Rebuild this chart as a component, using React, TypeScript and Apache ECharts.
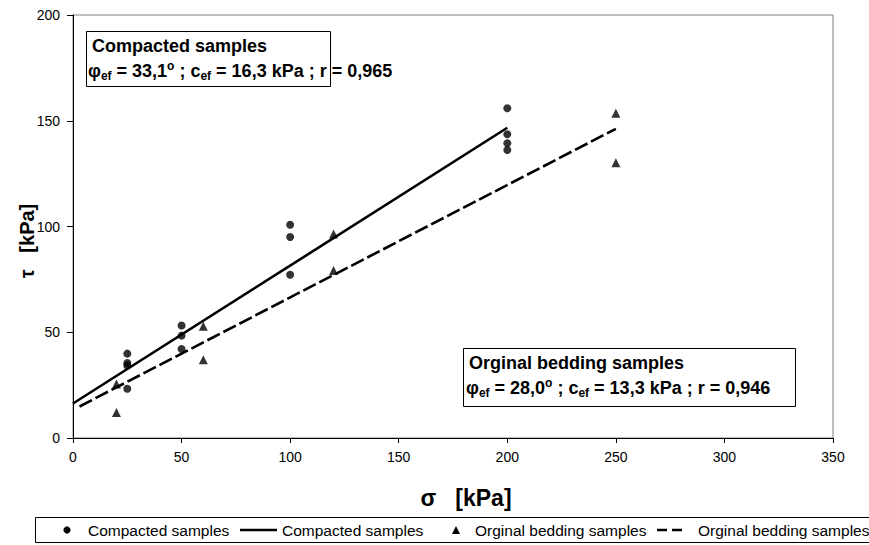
import React, { useEffect, useRef } from "react";
import * as echarts from "echarts";

// Compacted samples (circles)
const compactedSigma = [25, 25, 25, 25, 50, 50, 50, 100, 100, 100, 200, 200, 200, 200];
const compactedTau = [39.9, 35.5, 34.3, 23.3, 53.2, 48.4, 42.1, 100.8, 95.0, 77.2, 155.9, 143.6, 139.4, 136.2];
// Original bedding samples (triangles)
const beddingSigma = [20, 20, 60, 60, 120, 120, 250, 250];
const beddingTau = [25.5, 12.1, 52.8, 37.0, 96.5, 79.2, 153.6, 130.2];
// Fitted envelopes (end points)
const compactedFitSigma = [0, 200];
const compactedFitTau = [16.3, 146.7];
const beddingFitSigma = [3, 250];
const beddingFitTau = [14.9, 146.2];

const xTicks = { min: 0, max: 350, interval: 50 };
const yTicks = { min: 0, max: 200, interval: 50 };

const legendLabels = [
  "Compacted samples",
  "Compacted samples",
  "Orginal bedding samples",
  "Orginal bedding samples",
];

const FONT = 'Arial, "Liberation Sans", sans-serif';

const zip = (a: number[], b: number[]) => a.map((v, i) => [v, b[i]]);

export default function App() {
  const ref = useRef<HTMLDivElement>(null);
  useEffect(() => {
    const chart = echarts.init(ref.current!, null, { renderer: "svg" });
    const rich = {
      m: { fontFamily: FONT, fontWeight: "bold", fontSize: 18, lineHeight: 22, color: "#000" },
      g: { fontFamily: FONT, fontWeight: "bold", fontSize: 18, lineHeight: 22, color: "#000" },
      s: { fontFamily: FONT, fontWeight: "bold", fontSize: 12, lineHeight: 14, verticalAlign: "bottom", color: "#000" },
      p: { fontFamily: FONT, fontWeight: "bold", fontSize: 12, lineHeight: 14, verticalAlign: "top", color: "#000" },
    };
    const legendY = 530;
    const option: any = {
      animation: false,
      backgroundColor: "#fff",
      grid: {
        left: 73,
        right: 36,
        top: 15,
        bottom: 107,
        show: true,
        borderColor: "#808080",
        borderWidth: 1,
        backgroundColor: "transparent",
      },
      xAxis: {
        type: "value",
        min: xTicks.min,
        max: xTicks.max,
        interval: xTicks.interval,
        axisLine: { show: true, onZero: false, lineStyle: { color: "#000", width: 1 } },
        axisTick: { show: true, length: 5, lineStyle: { color: "#000" } },
        axisLabel: { color: "#000", fontSize: 14, fontFamily: FONT, margin: 12 },
        splitLine: { show: false },
      },
      yAxis: {
        type: "value",
        min: yTicks.min,
        max: yTicks.max,
        interval: yTicks.interval,
        axisLine: { show: true, onZero: false, lineStyle: { color: "#000", width: 1 } },
        axisTick: { show: true, length: 6, lineStyle: { color: "#000" } },
        axisLabel: { color: "#000", fontSize: 14, fontFamily: FONT, margin: 13 },
        splitLine: { show: false },
      },
      series: [
        {
          name: legendLabels[0],
          type: "scatter",
          symbol: "circle",
          symbolSize: 8,
          itemStyle: { color: "#000" },
          data: zip(compactedSigma, compactedTau),
        },
        {
          name: legendLabels[1],
          type: "line",
          symbol: "none",
          lineStyle: { color: "#000", width: 2.6, type: "solid" },
          data: zip(compactedFitSigma, compactedFitTau),
        },
        {
          name: legendLabels[2],
          type: "scatter",
          symbol: "triangle",
          symbolSize: 9,
          itemStyle: { color: "#000" },
          data: zip(beddingSigma, beddingTau),
        },
        {
          name: legendLabels[3],
          type: "line",
          symbol: "none",
          lineStyle: { color: "#000", width: 2.6, type: [14, 4] },
          data: zip(beddingFitSigma, beddingFitTau),
        },
      ],
      graphic: [
        // axis titles
        {
          type: "text",
          x: 466,
          y: 498,
          style: {
            text: "σ   [kPa]",
            font: `bold 23px ${FONT}`,
            fill: "#000",
            textAlign: "center",
            textVerticalAlign: "middle",
          },
        },
        {
          type: "text",
          x: 27,
          y: 241,
          rotation: Math.PI / 2,
          style: {
            text: "τ   [kPa]",
            font: `bold 20px ${FONT}`,
            fill: "#000",
            textAlign: "center",
            textVerticalAlign: "middle",
          },
        },
        // annotation box 1
        {
          type: "rect",
          shape: { x: 86.5, y: 31.5, width: 244, height: 55 },
          style: { fill: "#fff", stroke: "#000", lineWidth: 1 },
          z: 10,
        },
        {
          type: "text",
          x: 92,
          y: 46,
          z: 11,
          style: {
            text: "Compacted samples",
            font: `bold 18px ${FONT}`,
            fill: "#000",
            textVerticalAlign: "middle",
          },
        },
        {
          type: "text",
          x: 88,
          y: 71,
          z: 11,
          style: {
            text: "{g|φ}{s|ef}{m| = 33,1}{p|o}{m| ; c}{s|ef}{m| = 16,3 kPa ; r = 0,965}",
            rich,
            textVerticalAlign: "middle",
          },
        },
        // annotation box 2
        {
          type: "rect",
          shape: { x: 463.5, y: 348.5, width: 332, height: 58 },
          style: { fill: "#fff", stroke: "#000", lineWidth: 1 },
          z: 10,
        },
        {
          type: "text",
          x: 469,
          y: 363,
          z: 11,
          style: {
            text: "Orginal bedding samples",
            font: `bold 18px ${FONT}`,
            fill: "#000",
            textVerticalAlign: "middle",
          },
        },
        {
          type: "text",
          x: 466,
          y: 388,
          z: 11,
          style: {
            text: "{g|φ}{s|ef}{m| = 28,0}{p|o}{m| ; c}{s|ef}{m| = 13,3 kPa ; r = 0,946}",
            rich,
            textVerticalAlign: "middle",
          },
        },
        // legend
        {
          type: "rect",
          shape: { x: 35.5, y: 517.5, width: 850, height: 25 },
          style: { fill: "#fff", stroke: "#000", lineWidth: 1 },
        },
        {
          type: "circle",
          shape: { cx: 67, cy: legendY, r: 3.6 },
          style: { fill: "#000" },
        },
        {
          type: "text",
          x: 88,
          y: legendY,
          style: { text: legendLabels[0], font: `15.5px ${FONT}`, fill: "#000", textVerticalAlign: "middle" },
        },
        {
          type: "line",
          shape: { x1: 240, y1: legendY, x2: 277, y2: legendY },
          style: { stroke: "#000", lineWidth: 2.6 },
        },
        {
          type: "text",
          x: 282,
          y: legendY,
          style: { text: legendLabels[1], font: `15.5px ${FONT}`, fill: "#000", textVerticalAlign: "middle" },
        },
        {
          type: "polygon",
          shape: { points: [[452, 534], [460, 534], [456, 526]] },
          style: { fill: "#000" },
        },
        {
          type: "text",
          x: 475,
          y: legendY,
          style: { text: legendLabels[2], font: `15.5px ${FONT}`, fill: "#000", textVerticalAlign: "middle" },
        },
        {
          type: "line",
          shape: { x1: 657, y1: legendY, x2: 682, y2: legendY },
          style: { stroke: "#000", lineWidth: 2.6, lineDash: [10, 5] },
        },
        {
          type: "text",
          x: 698,
          y: legendY,
          style: { text: legendLabels[3], font: `15.5px ${FONT}`, fill: "#000", textVerticalAlign: "middle" },
        },
      ],
    };
    chart.setOption(option);
    return () => chart.dispose();
  }, []);
  return (
    <div
      ref={ref}
      style={{ position: "fixed", left: 0, top: 0, width: 869, height: 545, background: "#fff" }}
    />
  );
}
